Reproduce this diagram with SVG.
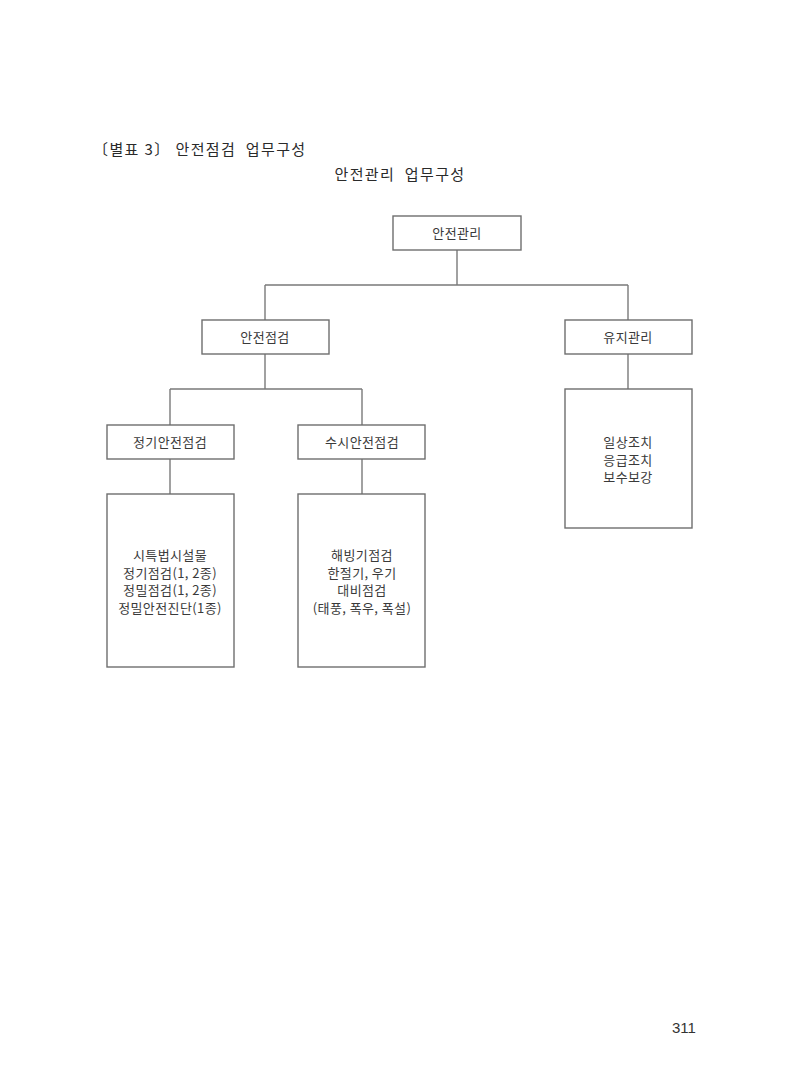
<svg xmlns="http://www.w3.org/2000/svg" width="800" height="1087" viewBox="0 0 800 1087">
<style>
  .box { fill: #ffffff; stroke: #6e6e6e; stroke-width: 1.4; }
  .conn { fill: none; stroke: #7a7a7a; stroke-width: 1.4; }
  .t { font-family: "Noto Sans CJK KR", "Liberation Serif", serif; fill: #3a3a3a; font-size: 13px; text-anchor: middle; letter-spacing: 0.4px; }
  .h { font-family: "Noto Sans CJK KR", "Liberation Serif", serif; fill: #2a2a2a; font-size: 15px; letter-spacing: 1.4px; }
  .pg { font-family: "Liberation Sans", "DejaVu Sans", sans-serif; fill: #333; font-size: 15px; }
</style>
<rect width="800" height="1087" fill="#ffffff"/>
<text class="h" x="93" y="155" xml:space="preserve">〔별표 3〕 안전점검  업무구성</text>
<text class="h" x="400" y="180" text-anchor="middle" xml:space="preserve">안전관리  업무구성</text>

<g id="connectors">
  <path class="conn" d="M457 250 V285 M265 285 H628 M265 285 V320 M628 285 V320"/>
  <path class="conn" d="M265 354 V389 M170 389 H362 M170 389 V425 M362 389 V425"/>
  <path class="conn" d="M628 354 V389"/>
  <path class="conn" d="M170 459 V494 M362 459 V494"/>
</g>

<g id="n-top">
  <rect class="box" x="393" y="216" width="128" height="34"/>
  <text class="t" x="457" y="237.5">안전관리</text>
</g>
<g id="n-inspect">
  <rect class="box" x="202" y="320" width="127" height="34"/>
  <text class="t" x="265" y="341.5">안전점검</text>
</g>
<g id="n-maint">
  <rect class="box" x="565" y="320" width="127" height="34"/>
  <text class="t" x="628" y="341.5">유지관리</text>
</g>
<g id="n-regular">
  <rect class="box" x="107" y="425" width="127" height="34"/>
  <text class="t" x="170" y="446.5">정기안전점검</text>
</g>
<g id="n-occasional">
  <rect class="box" x="298" y="425" width="127" height="34"/>
  <text class="t" x="362" y="446.5">수시안전점검</text>
</g>
<g id="n-maint-detail">
  <rect class="box" x="565" y="389" width="127" height="139"/>
  <text class="t" x="628" y="447">일상조치</text>
  <text class="t" x="628" y="464.5">응급조치</text>
  <text class="t" x="628" y="482">보수보강</text>
</g>
<g id="n-regular-detail">
  <rect class="box" x="107" y="494" width="127" height="173"/>
  <text class="t" x="170" y="560">시특법시설물</text>
  <text class="t" x="170" y="577.5">정기점검(1, 2종)</text>
  <text class="t" x="170" y="595">정밀점검(1, 2종)</text>
  <text class="t" x="170" y="612.5">정밀안전진단(1종)</text>
</g>
<g id="n-occasional-detail">
  <rect class="box" x="298" y="494" width="127" height="173"/>
  <text class="t" x="362" y="560">해빙기점검</text>
  <text class="t" x="362" y="577.5">한절기, 우기</text>
  <text class="t" x="362" y="595">대비점검</text>
  <text class="t" x="362" y="612.5">(태풍, 폭우, 폭설)</text>
</g>

<text class="pg" x="672" y="1033">311</text>
</svg>
